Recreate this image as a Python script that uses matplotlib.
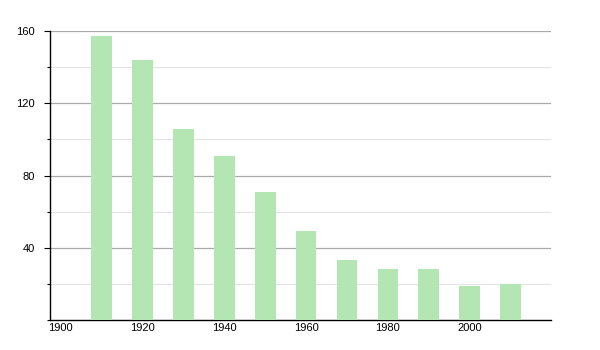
import matplotlib
matplotlib.use("Agg")
import matplotlib.pyplot as plt
from matplotlib.ticker import MultipleLocator

years = [1910, 1920, 1930, 1940, 1950, 1960, 1970, 1980, 1990, 2000, 2010]
values = [157, 144, 106, 91, 71, 49, 33, 28, 28, 19, 20]
xticks = [1900, 1920, 1940, 1960, 1980, 2000]
yticks = [40, 80, 120, 160]

plt.rcParams['font.family'] = ['Liberation Sans', 'DejaVu Sans']
fig = plt.figure(figsize=(6, 3.5), dpi=100)
ax = fig.add_axes([50/600, 30/350, 501/600, 289/350])

ax.bar(years, values, width=5.1, color='#b3e6b3', zorder=3)
ax.set_xlim(1897.5, 2019.8)
ax.set_ylim(0, 160)
ax.set_xticks(xticks)
ax.set_yticks(yticks)
ax.yaxis.set_minor_locator(MultipleLocator(20))
ax.grid(axis='y', which='major', color='#aaaaaa', linewidth=0.9, zorder=0)
ax.grid(axis='y', which='minor', color='#e3e3e3', linewidth=0.8, zorder=0)
for s in ['top', 'right']:
    ax.spines[s].set_visible(False)
ax.spines['left'].set_linewidth(1.0)
ax.spines['bottom'].set_linewidth(1.0)
ax.tick_params(axis='y', which='major', length=4, width=0.8, labelsize=8, pad=7)
ax.tick_params(axis='y', which='minor', length=2, width=0.8)
ax.tick_params(axis='x', length=0, labelsize=8, pad=2)
fig.savefig('out.png', dpi=100)
